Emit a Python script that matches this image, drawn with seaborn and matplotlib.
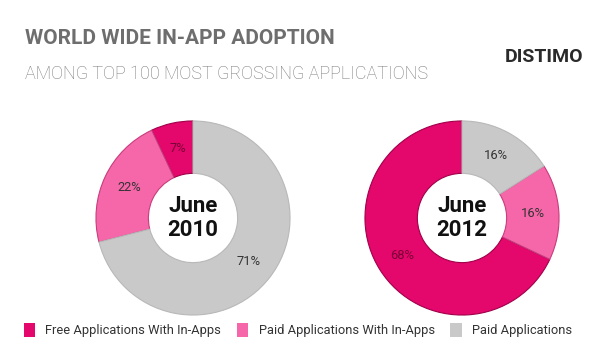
import matplotlib
matplotlib.use("Agg")
import matplotlib.pyplot as plt
from matplotlib.patches import Patch
import seaborn as sns

# data
categories = ["Free Applications With In-Apps", "Paid Applications With In-Apps", "Paid Applications"]
share_2010 = [7, 22, 71]
share_2012 = [68, 16, 16]
pie_titles = ["June\n2010", "June\n2012"]

sns.set_theme(style="white")
plt.rcParams['font.family'] = ['Roboto', 'DejaVu Sans']
colors = ["#e4076c", "#f567a9", "#c9c9c9"]
edges = ["#a0004a", "#c83c7e", "#b8b8b8"]

fig = plt.figure(figsize=(5.9, 3.56), dpi=100)
fig.patch.set_facecolor("white")

fig.text(25 / 590, 1 - 38 / 356, "WORLD WIDE IN-APP ADOPTION", fontsize=15,
         fontweight="bold", color="#6e6e6e", va="center", ha="left")
fig.text(25 / 590, 1 - 74 / 356, "AMONG TOP 100 MOST GROSSING APPLICATIONS", fontsize=13,
         fontweight="light", color="#777777", va="center", ha="left")
fig.text(583 / 590, 1 - 57 / 356, "DISTIMO", fontsize=14, fontweight="bold",
         color="#2a2a2a", va="center", ha="right")

r_px = 98
centers = [(193, 218), (462, 218)]
for (cx, cy), vals, title in zip(centers, [share_2010, share_2012], pie_titles):
    w = 2 * r_px / 590
    h = 2 * r_px / 356
    ax = fig.add_axes([cx / 590 - w / 2, 1 - cy / 356 - h / 2, w, h])
    wedges, texts, autotexts = ax.pie(
        vals, colors=colors, startangle=90, counterclock=True,
        autopct=lambda p: f"{p:.0f}%", pctdistance=0.73,
        wedgeprops=dict(width=0.54, linewidth=0.8),
        textprops=dict(fontsize=9.3, color="#333333"))
    for wdg, ec in zip(wedges, edges):
        wdg.set_edgecolor(ec)
    autotexts[0].set_color("#7a0035")
    ax.text(0, 0, title, ha="center", va="center", fontsize=16, fontweight="bold",
            color="#111111", linespacing=1.1)
    ax.set_xlim(-1.01, 1.01)
    ax.set_ylim(-1.01, 1.01)
    ax.set_aspect("equal")
    ax.axis("off")

handles = [Patch(facecolor=c, edgecolor="none") for c in colors]
fig.legend(handles, categories, loc="center", bbox_to_anchor=(298 / 590, 1 - 330 / 356),
           ncol=3, frameon=False, fontsize=9.3, handlelength=0.9, handleheight=1.4,
           handletextpad=0.8, columnspacing=1.2, labelcolor="#333333")

fig.savefig("out.png", dpi=100, facecolor="white")
